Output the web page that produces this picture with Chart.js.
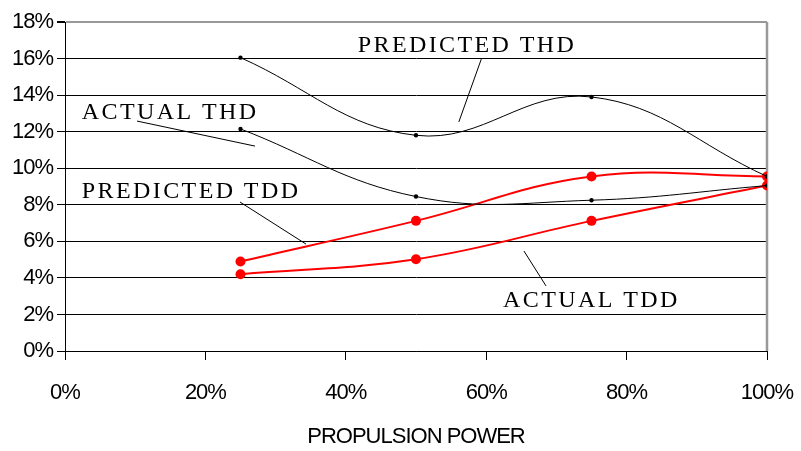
<!DOCTYPE html>
<html lang="en">
<head>
    <meta charset="UTF-8">
    <title>Harmonic Distortion vs Propulsion Power</title>
    <script src="https://cdn.jsdelivr.net/npm/chart.js"></script>
    <style>
        html, body { margin: 0; padding: 0; background: #fff; }
        #wrap { width: 801px; height: 451px; }
    </style>
</head>
<body>
    <div id="wrap"><canvas id="thdChart" width="801" height="451"></canvas></div>

    <script>
        // data (percent)
        const powerPct = [25, 50, 75, 100];
        const predictedTHD = [16.05, 11.8, 13.9, 9.55];
        const actualTHD = [12.15, 8.45, 8.25, 9.05];
        const predictedTDD = [4.9, 7.12, 9.55, 9.55];
        const actualTDD = [4.2, 5.02, 7.12, 9.05];

        const xTicks = [0, 20, 40, 60, 80, 100];
        const yTicks = [0, 2, 4, 6, 8, 10, 12, 14, 16, 18];

        // text callouts, placed in data units
        const callouts = [
            { text: 'PREDICTED THD', x: 41.7, y: 16.36, from: [59.3, 15.97], to: [56.1, 12.53] },
            { text: 'ACTUAL THD', x: 2.4, y: 12.69, from: [10.26, 12.58], to: [27.07, 11.21] },
            { text: 'PREDICTED TDD', x: 2.4, y: 8.37, from: [24.93, 8.15], to: [34.33, 5.85] },
            { text: 'ACTUAL TDD', x: 62.4, y: 2.41, from: [65.38, 5.47], to: [68.52, 3.56] }
        ];

        const toPoints = (vals) => powerPct.map((p, i) => ({ x: p, y: vals[i] }));

        const framePlugin = {
            id: 'frame',
            beforeDraw(chart) {
                chart.ctx.letterSpacing = '-1px';
            },
            beforeDatasetsDraw(chart) {
                const { ctx, chartArea: a } = chart;
                ctx.save();
                ctx.strokeStyle = '#999';
                ctx.lineWidth = 2.5;
                ctx.beginPath();
                ctx.moveTo(a.right, a.top);
                ctx.lineTo(a.right, a.bottom);
                ctx.stroke();
                ctx.restore();
            },
            afterDraw(chart) {
                const { ctx } = chart;
                const xs = chart.scales.x, ys = chart.scales.y;
                ctx.save();
                ctx.letterSpacing = '2.4px';
                ctx.font = '24px "Liberation Serif"';
                ctx.fillStyle = '#000';
                ctx.textBaseline = 'alphabetic';
                ctx.textAlign = 'left';
                ctx.strokeStyle = '#000';
                ctx.lineWidth = 1;
                callouts.forEach(c => {
                    ctx.fillText(c.text, xs.getPixelForValue(c.x), ys.getPixelForValue(c.y));
                    ctx.beginPath();
                    ctx.moveTo(xs.getPixelForValue(c.from[0]), ys.getPixelForValue(c.from[1]));
                    ctx.lineTo(xs.getPixelForValue(c.to[0]), ys.getPixelForValue(c.to[1]));
                    ctx.stroke();
                });
                ctx.restore();
            }
        };

        const blackLine = (label, vals) => ({
            label: label,
            data: toPoints(vals),
            borderColor: '#000',
            backgroundColor: '#000',
            borderWidth: 1,
            pointRadius: 2.2,
            pointBorderWidth: 0,
            tension: 0.4
        });
        const redLine = (label, vals) => ({
            label: label,
            data: toPoints(vals),
            borderColor: '#ff0000',
            backgroundColor: '#ff0000',
            borderWidth: 2,
            pointRadius: 5,
            pointBorderWidth: 0,
            tension: 0.4
        });

        new Chart(document.getElementById('thdChart'), {
            type: 'line',
            data: {
                datasets: [
                    blackLine('Predicted THD', predictedTHD),
                    blackLine('Actual THD', actualTHD),
                    redLine('Predicted TDD', predictedTDD),
                    redLine('Actual TDD', actualTDD)
                ]
            },
            options: {
                responsive: false,
                animation: false,
                layout: { padding: { left: 0, right: 34, top: 22, bottom: 0 } },
                plugins: { legend: { display: false }, tooltip: { enabled: false } },
                scales: {
                    x: {
                        type: 'linear',
                        min: 0,
                        max: 100,
                        afterBuildTicks: s => { s.ticks = xTicks.map(v => ({ value: v })); },
                        afterFit: s => { s.height = 100; s.paddingLeft = 0; s.paddingRight = 0; },
                        ticks: {
                            color: '#000',
                            font: { family: '"Liberation Sans"', size: 22 },
                            padding: 20,
                            maxRotation: 0,
                            callback: v => v + '%'
                        },
                        grid: { drawOnChartArea: false, drawTicks: true, tickLength: 9, color: '#000' },
                        border: { display: true, color: '#000', width: 1 },
                        title: {
                            display: true,
                            text: 'PROPULSION POWER',
                            color: '#000',
                            font: { family: '"Liberation Sans"', size: 22 },
                            padding: { top: 4, bottom: 1 }
                        }
                    },
                    y: {
                        min: 0,
                        max: 18,
                        afterBuildTicks: s => { s.ticks = yTicks.map(v => ({ value: v })); },
                        afterFit: s => { s.width = 65; },
                        ticks: {
                            color: '#000',
                            font: { family: '"Liberation Sans"', size: 22 },
                            padding: 4,
                            callback: v => v + '%'
                        },
                        grid: {
                            color: c => (c.tick && c.tick.value === 18) ? '#999' : '#000',
                            tickColor: '#000',
                            lineWidth: c => (c.tick && c.tick.value === 18) ? 2 : 1,
                            tickLength: 8
                        },
                        border: { display: true, color: '#000', width: 1 }
                    }
                }
            },
            plugins: [framePlugin]
        });
    </script>
</body>
</html>
